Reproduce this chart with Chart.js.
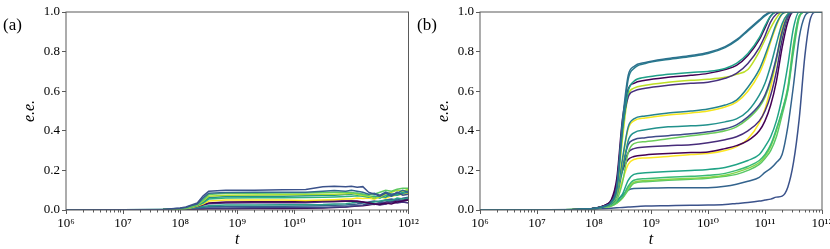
<!DOCTYPE html>
<html>
<head>
<meta charset="utf-8">
<script src="https://cdn.jsdelivr.net/npm/chart.js@4.4.1/dist/chart.umd.min.js"></script>
<style>
  html, body { margin: 0; padding: 0; background: #fff; }
  #wrap { position: relative; width: 830px; height: 249px; overflow: hidden; }
  canvas { position: absolute; top: 0; }
  #chartA { left: 0; }
  #chartB { left: 414px; }
</style>
</head>
<body>
<div id="wrap">
  <canvas id="chartA" width="430" height="249"></canvas>
  <canvas id="chartB" width="416" height="249"></canvas>
</div>
<script>
// x positions are log10(t)
const logTA = [6, 7, 7.7, 8, 8.1, 8.2, 8.3, 8.4, 8.5, 8.8, 9.3, 9.8, 10.2, 10.5, 10.7, 10.9, 11, 11.1, 11.2, 11.3, 11.4, 11.5, 11.6, 11.7, 11.8, 11.9, 12];
const logTB = [6, 7, 7.7, 8, 8.2, 8.3, 8.4, 8.5, 8.6, 8.7, 8.9, 9.3, 9.7, 10, 10.3, 10.5, 10.7, 10.9, 11, 11.1, 11.2, 11.3, 11.4, 11.5, 11.6, 11.7, 11.8, 11.9, 12];

const xTickLabels = ['10\u2076', '10\u2077', '10\u2078', '10\u2079', '10\u00b9\u2070', '10\u00b9\u00b9', '10\u00b9\u00b2'];
const xTickExps = [6, 7, 8, 9, 10, 11, 12];
const yTicks = [0, 0.2, 0.4, 0.6, 0.8, 1.0];

// panel (a)
const a1 = [0, .001, .003, .01, .015, .025, .035, .07, .095, .10, .10, .102, .104, .118, .12, .117, .12, .115, .118, .09, .08, .07, .085, .07, .09, .075, .08];
const a2 = [0, .001, .003, .009, .013, .022, .03, .06, .085, .088, .09, .09, .09, .095, .098, .095, .1, .095, .09, .08, .085, .075, .09, .08, .085, .1, .09];
const a3 = [0, .001, .002, .006, .01, .018, .028, .05, .078, .084, .085, .086, .086, .088, .09, .09, .088, .085, .08, .075, .08, .09, .1, .095, .105, .11, .11];
const a4 = [0, .001, .002, .006, .01, .017, .025, .045, .07, .075, .076, .077, .078, .08, .08, .082, .085, .08, .075, .07, .06, .065, .08, .09, .1, .095, .105];
const a5 = [0, .001, .002, .006, .01, .016, .024, .04, .062, .068, .07, .07, .072, .074, .075, .078, .08, .085, .08, .07, .06, .07, .065, .08, .075, .085, .09];
const a6 = [0, .001, .002, .005, .009, .015, .022, .035, .055, .06, .062, .062, .063, .065, .066, .068, .07, .072, .07, .065, .07, .06, .075, .07, .08, .09, .1];
const a7 = [0, .001, .002, .005, .008, .013, .02, .03, .045, .05, .05, .05, .048, .05, .052, .055, .055, .06, .058, .06, .055, .065, .06, .07, .075, .08, .085];
const a8 = [0, .001, .002, .006, .01, .015, .02, .028, .036, .04, .042, .042, .043, .045, .046, .045, .046, .045, .04, .035, .03, .028, .035, .03, .04, .045, .05];
const a9 = [0, .001, .002, .005, .009, .013, .018, .025, .032, .035, .036, .036, .037, .04, .042, .044, .045, .042, .04, .035, .03, .025, .03, .04, .035, .04, .035];
const a10 = [0, .001, .002, .004, .007, .01, .014, .018, .022, .025, .025, .026, .027, .028, .03, .032, .035, .04, .038, .035, .04, .045, .05, .045, .06, .055, .06];
const a11 = [0, .001, .002, .004, .006, .008, .011, .014, .016, .018, .018, .019, .02, .022, .024, .025, .028, .03, .035, .04, .045, .04, .05, .055, .05, .06, .065];
const a12 = [0, .001, .001, .003, .005, .006, .008, .009, .01, .01, .011, .012, .012, .013, .015, .017, .02, .022, .025, .03, .028, .035, .04, .045, .05, .045, .05];
const a13 = [0, .001, .001, .002, .003, .004, .005, .005, .006, .006, .007, .008, .009, .01, .012, .015, .018, .02, .022, .025, .03, .035, .03, .04, .045, .05, .055];

// panel (b)
const b1 = [0, .001, .003, .008, .02, .04, .12, .45, .68, .725, .745, .765, .78, .795, .825, .86, .91, .96, .985, 1, 1, 1, 1, 1, 1, 1, 1, 1, 1];
const b2 = [0, .001, .003, .008, .02, .04, .11, .42, .66, .715, .74, .76, .775, .79, .82, .855, .905, .955, .98, .998, 1, 1, 1, 1, 1, 1, 1, 1, 1];
const b3 = [0, .001, .003, .008, .02, .035, .10, .40, .60, .65, .67, .685, .695, .70, .715, .74, .79, .87, .93, .98, 1, 1, 1, 1, 1, 1, 1, 1, 1];
const b4 = [0, .001, .003, .009, .025, .05, .16, .46, .61, .64, .655, .67, .68, .69, .71, .73, .78, .86, .92, .98, 1, 1, 1, 1, 1, 1, 1, 1, 1];
const b5 = [0, .001, .003, .009, .025, .045, .14, .42, .57, .60, .615, .63, .64, .645, .665, .69, .74, .82, .88, .95, .99, 1, 1, 1, 1, 1, 1, 1, 1];
const b6 = [0, .001, .003, .008, .02, .035, .09, .36, .58, .615, .63, .645, .655, .66, .67, .685, .71, .80, .86, .92, .97, 1, 1, 1, 1, 1, 1, 1, 1];
const b7 = [0, .001, .003, .008, .02, .035, .08, .26, .42, .46, .475, .49, .50, .51, .53, .555, .62, .71, .78, .86, .94, .99, 1, 1, 1, 1, 1, 1, 1];
const b8 = [0, .001, .003, .008, .02, .035, .08, .25, .41, .45, .465, .48, .49, .50, .52, .545, .60, .69, .76, .85, .93, .99, 1, 1, 1, 1, 1, 1, 1];
const b9 = [0, .001, .003, .008, .02, .03, .07, .20, .35, .39, .405, .42, .425, .43, .445, .46, .50, .58, .64, .73, .84, .94, .99, 1, 1, 1, 1, 1, 1];
const b10 = [0, .001, .003, .008, .02, .035, .09, .22, .33, .355, .365, .375, .385, .395, .41, .43, .47, .53, .58, .66, .77, .90, .98, 1, 1, 1, 1, 1, 1];
const b11 = [0, .001, .003, .007, .018, .025, .05, .14, .29, .335, .345, .36, .375, .385, .40, .42, .46, .52, .57, .65, .76, .89, .98, 1, 1, 1, 1, 1, 1];
const b12 = [0, .001, .003, .008, .022, .04, .10, .21, .29, .31, .318, .325, .33, .34, .355, .37, .40, .45, .50, .58, .70, .86, .97, 1, 1, 1, 1, 1, 1];
const b13 = [0, .001, .003, .009, .025, .045, .11, .20, .255, .27, .278, .285, .29, .293, .31, .325, .35, .40, .45, .53, .65, .82, .95, 1, 1, 1, 1, 1, 1];
const b14 = [0, .001, .003, .008, .02, .035, .07, .15, .23, .255, .263, .27, .28, .285, .30, .32, .36, .44, .51, .62, .76, .92, .99, 1, 1, 1, 1, 1, 1];
const b15 = [0, .001, .003, .007, .018, .025, .045, .08, .15, .18, .188, .195, .20, .205, .215, .23, .25, .28, .32, .37, .45, .57, .73, .92, 1, 1, 1, 1, 1];
const b16 = [0, .001, .003, .007, .017, .022, .04, .065, .12, .15, .158, .165, .17, .175, .185, .20, .22, .25, .28, .33, .41, .50, .61, .82, .98, 1, 1, 1, 1];
const b17 = [0, .001, .003, .007, .016, .02, .035, .06, .11, .14, .148, .155, .16, .165, .175, .19, .21, .24, .27, .32, .40, .50, .62, .84, .98, 1, 1, 1, 1];
const b18 = [0, .001, .003, .007, .016, .02, .035, .06, .10, .135, .143, .15, .155, .16, .17, .18, .20, .23, .26, .30, .37, .48, .60, .80, .97, 1, 1, 1, 1];
const b19 = [0, .001, .003, .008, .02, .03, .05, .075, .10, .108, .11, .112, .112, .113, .12, .13, .145, .165, .19, .21, .24, .28, .42, .63, .87, .98, 1, 1, 1];
const b20 = [0, .001, .002, .004, .007, .009, .011, .013, .015, .017, .02, .022, .024, .025, .028, .033, .038, .045, .05, .055, .065, .07, .115, .24, .46, .78, .97, 1, 1];

const seriesA = [a1, a2, a3, a4, a5, a6, a7, a8, a9, a10, a11, a12, a13];
const colorsA = ['#3b528b', '#31688e', '#5ec962', '#addc30', '#21918c', '#2fb47c', '#fde725', '#440154', '#46337f', '#2a9d88', '#355f8d', '#3e4989', '#440154'];
const seriesB = [b1, b2, b3, b4, b5, b6, b7, b8, b9, b10, b11, b12, b13, b14, b15, b16, b17, b18, b19, b20];
const colorsB = ['#2c728e', '#287c8e', '#1fa088', '#440154', '#46307e', '#bddf26', '#25838e', '#f4e61e', '#21918c', '#3e4a89', '#6ccd5a', '#472c7a', '#440154', '#fde725', '#20a386', '#3bbb75', '#84d44b', '#58c765', '#33638d', '#3b528b'];

const spineColor = '#5a5a5a';
const serif = '"Liberation Serif", "DejaVu Serif", serif';

const framePlugin = {
  id: 'frame',
  afterDraw(chart, args, opts) {
    const { ctx, chartArea: a, scales: { x } } = chart;
    ctx.save();
    ctx.strokeStyle = spineColor;
    ctx.lineWidth = 1;
    ctx.strokeRect(a.left, a.top, a.right - a.left, a.bottom - a.top);
    ctx.beginPath();
    for (let e = 6; e < 12; e++) {
      for (let k = 2; k < 10; k++) {
        const px = Math.round(x.getPixelForValue(k * Math.pow(10, e))) + 0.5;
        ctx.moveTo(px, a.bottom);
        ctx.lineTo(px, a.bottom + 2.5);
      }
    }
    ctx.stroke();
    ctx.fillStyle = '#000';
    ctx.font = '17px ' + serif;
    ctx.textBaseline = 'middle';
    ctx.fillText(opts.label, 3, 26);
    ctx.restore();
  }
};

function makePanel(id, label, logT, series, colors, padRight, smooth) {
  const datasets = series.map((vals, i) => ({
    data: vals.map((v, j) => ({ x: Math.pow(10, logT[j]), y: v })),
    borderColor: colors[i],
    borderWidth: 1.5,
    pointRadius: 0,
    fill: false,
    cubicInterpolationMode: smooth ? 'monotone' : 'default',
    tension: 0,
  }));
  return new Chart(document.getElementById(id).getContext('2d'), {
    type: 'line',
    data: { datasets },
    plugins: [framePlugin],
    options: {
      responsive: false,
      animation: false,
      devicePixelRatio: 1,
      layout: { padding: { top: 12, right: padRight, left: 0, bottom: 0 } },
      plugins: {
        legend: { display: false },
        tooltip: { enabled: false },
        frame: { label },
      },
      scales: {
        x: {
          type: 'logarithmic',
          min: 1e6,
          max: 1e12,
          afterBuildTicks: (scale) => {
            scale.ticks = xTickExps.map(e => ({ value: Math.pow(10, e), major: true }));
          },
          afterFit: (scale) => {
            scale.height = 39;
            scale.paddingLeft = 0;
            scale.paddingRight = 0;
          },
          ticks: {
            autoSkip: false,
            maxRotation: 0,
            padding: 2,
            color: '#000',
            font: { family: serif, size: 13 },
            callback: (v, i) => xTickLabels[i],
          },
          grid: { drawOnChartArea: false, tickLength: 4, color: spineColor },
          border: { display: false },
          title: {
            display: true,
            text: 't',
            color: '#000',
            font: { family: serif, size: 16, style: 'italic' },
            padding: { top: 0, bottom: 0 },
          },
        },
        y: {
          min: 0,
          max: 1,
          afterBuildTicks: (scale) => {
            scale.ticks = yTicks.map(v => ({ value: v }));
          },
          afterFit: (scale) => {
            scale.width = 66;
            scale.paddingTop = 0;
            scale.paddingBottom = 0;
          },
          ticks: {
            padding: 2,
            color: '#000',
            font: { family: serif, size: 13 },
            callback: (v) => v.toFixed(1),
          },
          grid: { drawOnChartArea: false, tickLength: 4, color: spineColor },
          border: { display: false },
          title: {
            display: true,
            text: 'e.e.',
            color: '#000',
            font: { family: serif, size: 16, style: 'italic' },
            padding: { top: 20, bottom: 0 },
          },
        },
      },
    },
  });
}

makePanel('chartA', '(a)', logTA, seriesA, colorsA, 21.5, false);
makePanel('chartB', '(b)', logTB, seriesB, colorsB, 8, true);
</script>
</body>
</html>
